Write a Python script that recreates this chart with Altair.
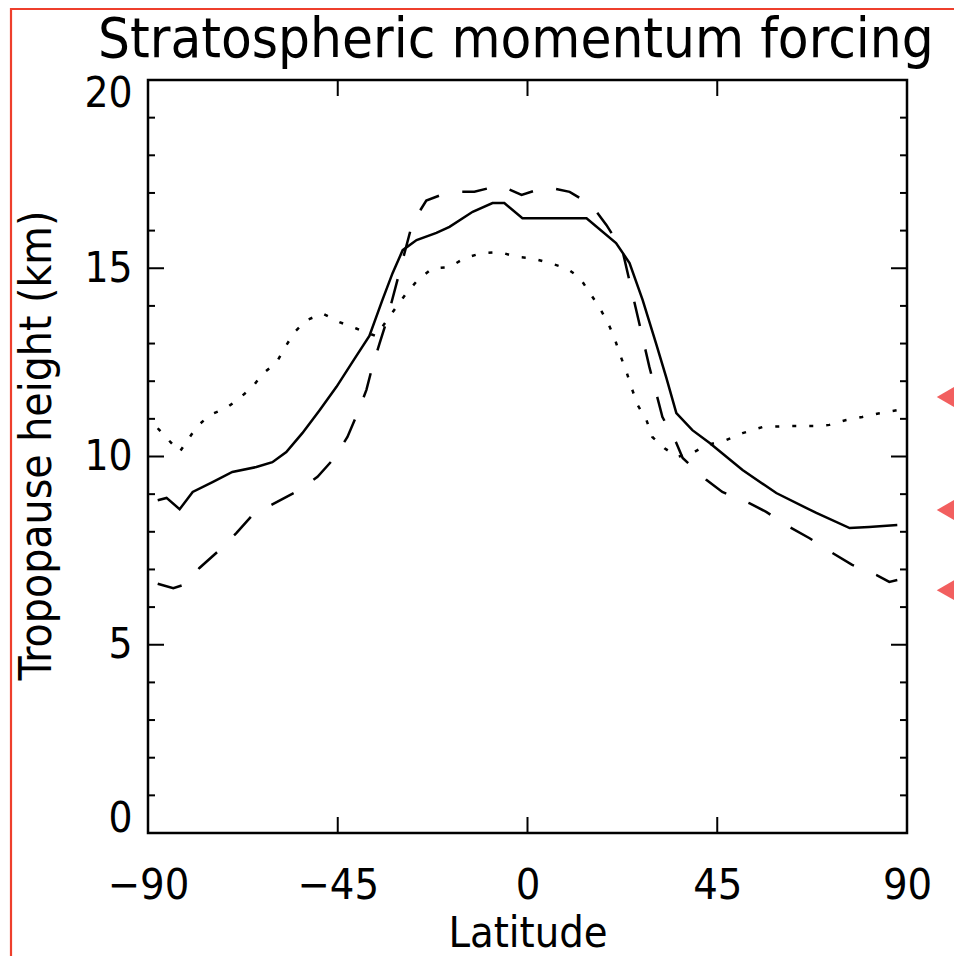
import altair as alt
import pandas as pd

# ---- data ----
solid_lat = [-87.7, -85.6, -82.5, -79.4, -74.7, -70.0, -64.3, -60.5, -57.2, -53.4, -49.3, -45.3,
             -41.0, -37.5, -34.4, -32.0, -29.6, -26.3, -21.6, -18.5, -13.0, -8.3, -5.5, -1.2,
             14.0, 21.0, 24.2, 27.3, 30.5, 32.9, 35.3, 39.1, 43.2, 51.0, 59.0, 68.5, 76.4, 81.0, 87.7]
solid_val = [8.84, 8.90, 8.60, 9.06, 9.32, 9.59, 9.72, 9.85, 10.12, 10.62, 11.23, 11.85,
             12.6, 13.2, 14.16, 14.87, 15.48, 15.75, 15.94, 16.1, 16.5, 16.73, 16.73, 16.33,
             16.33, 15.67, 15.14, 14.16, 13.0, 12.1, 11.15, 10.7, 10.36, 9.64, 9.03, 8.5, 8.1, 8.13, 8.18]

dashed_lat = [-87.7, -84.0, -81.3, -77.8, -73.0, -69.0, -65.2, -59.5, -54.0, -49.8, -45.8, -42.7,
              -40.3, -38.2, -36.8, -35.1, -33.4, -27.3, -24.0, -18.5, -12.6, -6.6, -1.4, 4.5,
              10.0, 15.2, 18.7, 22.5, 28.9, 32.0, 35.3, 36.8, 42.4, 46.2, 52.6, 56.6, 62.1,
              66.9, 72.3, 77.0, 82.8, 85.8, 87.7]
dashed_val = [6.62, 6.5, 6.6, 7.04, 7.52, 7.97, 8.45, 8.79, 9.11, 9.46, 9.96, 10.52,
              11.15, 11.77, 12.38, 13.0, 13.6, 16.2, 16.8, 17.03, 17.03, 17.2, 16.95, 17.16,
              17.03, 16.68, 16.15, 15.48, 12.38, 11.05, 10.36, 9.96, 9.38, 9.06, 8.76, 8.53, 8.13,
              7.83, 7.44, 7.12, 6.85, 6.67, 6.72]

dotted_lat = [-87.7, -82.5, -78.5, -75.4, -71.4, -68.3, -65.2, -62.8, -59.5, -57.6, -55.3, -52.4,
              -48.6, -44.6, -40.6, -36.0, -31.1, -28.7, -26.0, -22.5, -18.5, -14.9, -10.9, -6.6,
              -2.6, 0.9, 5.2, 9.2, 12.3, 14.7, 17.0, 19.0, 20.6, 21.8, 23.5, 24.7, 26.1, 28.2,
              29.6, 32.5, 35.6, 39.1, 42.4, 47.2, 51.0, 55.7, 62.1, 68.5, 71.6, 75.6, 79.4, 83.5, 87.7]
dotted_val = [10.75, 10.12, 10.78, 11.1, 11.29, 11.55, 11.85, 12.2, 12.5, 12.88, 13.3, 13.62,
              13.8, 13.57, 13.4, 13.2, 13.97, 14.34, 14.69, 15.0, 15.03, 15.27, 15.4, 15.43,
              15.3, 15.27, 15.14, 15.0, 14.76, 14.36, 13.97, 13.57, 13.16, 12.75, 12.24, 11.82, 11.37, 10.97,
              10.52, 10.22, 9.99, 10.09, 10.3, 10.44, 10.62, 10.78, 10.81, 10.81, 10.84, 10.97, 11.05, 11.15, 11.23]

x_ticks = [-90, -45, 0, 45, 90]
y_ticks = [0, 5, 10, 15, 20]
y_minor = [v for v in range(1, 20) if v % 5 != 0]
marker_vals = [11.58, 8.58, 6.45]

TITLE = "Stratospheric momentum forcing"
XTITLE = "Latitude"
YTITLE = "Tropopause height (km)"

# ---- layout ----
W, H = 759, 753
FONT = "DejaVu Sans Condensed, DejaVu Sans"
xs = alt.Scale(domain=[-90, 90], nice=False, zero=False)
ys = alt.Scale(domain=[0, 20], nice=False, zero=False)
px_x = W / 180.0
px_y = H / 20.0
MAJ, MIN = 16, 7

X_AXIS = alt.Axis(
    values=x_ticks, ticks=False, tickSize=0, domain=False, grid=False,
    labelFontSize=43, labelPadding=31, labelFlush=False, labelColor="black",
    title=XTITLE, titleFontSize=43, titleFontWeight="normal", titleColor="black",
    titleBaseline="alphabetic", titleY=113)
Y_AXIS = alt.Axis(
    values=y_ticks, ticks=False, tickSize=0, domain=False, grid=False,
    labelFontSize=42, labelPadding=16, labelFlush=True, labelFlushOffset=7,
    labelColor="black",
    title=YTITLE, titleFontSize=44, titleFontWeight="normal", titleColor="black",
    titleBaseline="alphabetic", titleX=-98, titleY=365, titleAngle=270)


def X(field):
    return alt.X(field, scale=xs, axis=X_AXIS)


def Y(field):
    return alt.Y(field, scale=ys, axis=Y_AXIS)


def line_layer(lat, val, dash):
    df = pd.DataFrame({"lat": lat, "val": val, "i": range(len(lat))})
    kw = dict(color="black", strokeWidth=2.5, clip=False)
    if dash:
        kw["strokeDash"] = dash
    return alt.Chart(df).mark_line(**kw).encode(x=X("lat:Q"), y=Y("val:Q"), order="i:Q")


solid = line_layer(solid_lat, solid_val, None)
dashed = line_layer(dashed_lat, dashed_val, [25, 24])
dotted = line_layer(dotted_lat, dotted_val, [4, 13])

# inward ticks
xt = pd.DataFrame({"lat": x_ticks[1:-1]})
yt = pd.DataFrame({"val": y_ticks[1:-1]})
ym = pd.DataFrame({"val": y_minor})
rule = dict(color="black", strokeWidth=2)
bottom_t = alt.Chart(xt).mark_rule(**rule).encode(
    x=X("lat:Q"), y=alt.datum(0), y2=alt.datum(MAJ / px_y))
top_t = alt.Chart(xt).mark_rule(**rule).encode(
    x=X("lat:Q"), y=alt.datum(20), y2=alt.datum(20 - MAJ / px_y))
left_t = alt.Chart(yt).mark_rule(**rule).encode(
    y=Y("val:Q"), x=alt.datum(-90), x2=alt.datum(-90 + MAJ / px_x))
right_t = alt.Chart(yt).mark_rule(**rule).encode(
    y=Y("val:Q"), x=alt.datum(90), x2=alt.datum(90 - MAJ / px_x))
left_m = alt.Chart(ym).mark_rule(**rule).encode(
    y=Y("val:Q"), x=alt.datum(-90), x2=alt.datum(-90 + MIN / px_x))
right_m = alt.Chart(ym).mark_rule(**rule).encode(
    y=Y("val:Q"), x=alt.datum(90), x2=alt.datum(90 - MIN / px_x))

# red markers at the right edge and red outer frame (annotation overlay)
mk = pd.DataFrame({"val": marker_vals})
markers = alt.Chart(mk).mark_point(shape="triangle-left", filled=True, color="#f25f5f",
                                   opacity=1, size=560, clip=False).encode(
    y=Y("val:Q"), x=alt.value(799))
frame = alt.Chart(alt.Data(values=[{}])).mark_rect(
    filled=False, stroke="#ee3f2c", strokeWidth=2.2, clip=False).encode(
    x=alt.value(-137), x2=alt.value(900), y=alt.value(-71), y2=alt.value(1000))

title = alt.Chart(alt.Data(values=[{"t": TITLE}])).mark_text(
    align="left", baseline="alphabetic", fontSize=56, font=FONT, color="black", clip=False
).encode(text="t:N", x=alt.value(-50), y=alt.value(-23))

chart = alt.layer(
    solid, dashed, dotted, bottom_t, top_t, left_t, right_t, left_m, right_m, markers, frame, title
).properties(
    width=W, height=H,
    autosize=alt.AutoSizeParams(type="none"),
    padding={"left": 148, "top": 80, "right": 47, "bottom": 123},
).configure(font=FONT, background="white").configure_view(
    stroke="black", strokeWidth=2.5
).configure_axis(labelFont=FONT, titleFont=FONT)

chart.save("out.html", embed_options={"renderer": "svg", "actions": False})
